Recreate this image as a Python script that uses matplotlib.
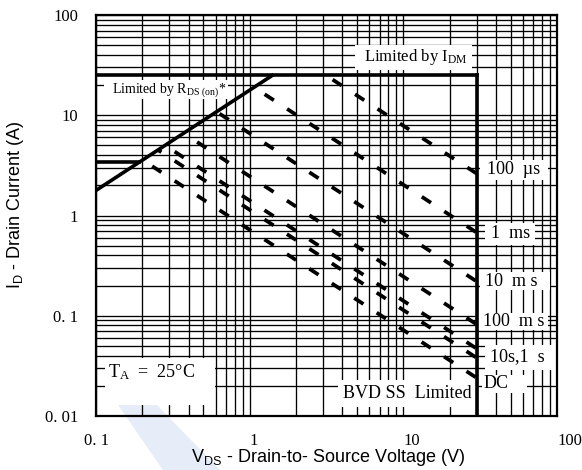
import matplotlib
matplotlib.use("Agg")
import matplotlib.pyplot as plt
from matplotlib.patches import Polygon, Rectangle
import numpy as np

plt.rcParams["lines.scale_dashes"] = False
plt.rcParams["mathtext.default"] = "regular"

# limits
r_ds_on = 0.0562   # ohm
i_dm = 25.0        # A
i_d = 3.4          # A
bv_dss = 30.0      # V
v_min = 0.1

# pulse lines: current where each line hits BVDSS (30 V)
pulse_names = ["100 µs", "1 ms", "10 ms", "100 ms", "1 s", "10 s", "DC"]
pulse_i_at_bvdss = [2.62, 0.676, 0.220, 0.082, 0.047, 0.038, 0.024]

x_ticks = [0.1, 1, 10, 100]
x_tick_labels = ["0. 1", "1", "10", "100"]
y_ticks = [0.01, 0.1, 1, 10, 100]
y_tick_labels = ["0. 01", "0. 1", "1", "10", "100"]

W, H = 582, 470
AX_L, AX_R, AX_T, AX_B = 96, 557, 15, 416
SERIF = ["Liberation Serif", "DejaVu Serif"]
SANS = ["Liberation Sans", "DejaVu Sans"]

fig = plt.figure(figsize=(W / 100, H / 100), dpi=100)

# faint watermark stripe at the bottom, behind everything
fig.patches.append(Polygon([(118 / W, 1 - 405 / H), (157 / W, 1 - 405 / H),
                            (220 / W, 0), (163 / W, 0)], closed=True,
                           transform=fig.transFigure, facecolor="#e6ecf8",
                           edgecolor="none", zorder=-5))

ax = fig.add_axes([AX_L / W, (H - AX_B) / H, (AX_R - AX_L) / W, (AX_B - AX_T) / H])
ax.patch.set_alpha(0)
ax.set_xscale("log")
ax.set_yscale("log")
ax.set_xlim(0.1, 100)
ax.set_ylim(0.01, 100)
ax.set_axisbelow(True)
ax.grid(which="both", color="black", lw=0.95)
for s in ax.spines.values():
    s.set_linewidth(1.6)

ax.set_xticks(x_ticks)
ax.set_xticklabels(x_tick_labels, family=SERIF, fontsize=12)
ax.set_yticks(y_ticks)
ax.set_yticklabels(y_tick_labels, family=SERIF, fontsize=12)
ax.tick_params(which="both", length=0)
ax.tick_params(axis="x", pad=12)
ax.tick_params(axis="y", pad=13)
for lab in ax.get_xticklabels()[1:]:
    lab.set_horizontalalignment("left")


def fx(x):
    return (x - AX_L) / (AX_R - AX_L)


def fy(y):
    return (AX_B - y) / (AX_B - AX_T)


def white_box(x0, y0, x1, y1):
    ax.add_patch(Rectangle((fx(x0), fy(y1)), fx(x1) - fx(x0), fy(y0) - fy(y1),
                           transform=ax.transAxes, facecolor="white",
                           edgecolor="none", zorder=2))


def label(x, y, s, size):
    ax.text(fx(x), fy(y), s, transform=ax.transAxes, fontsize=size,
            family=SERIF, ha="left", va="center", zorder=4)


# boundary lines
v_knee = i_dm * r_ds_on
ax.plot([v_min, v_knee], [v_min / r_ds_on, i_dm], color="black", lw=2.6, zorder=3)
ax.plot([v_min, bv_dss], [i_dm, i_dm], color="black", lw=2.6, zorder=3)
ax.plot([bv_dss, bv_dss], [0.01, i_dm], color="black", lw=2.6, zorder=3)
ax.plot([v_min, i_d * r_ds_on], [i_d, i_d], color="black", lw=2.6, zorder=3)

# constant-power pulse lines, clipped to the SOA
clip = Polygon([(v_min, 1e-3), (v_min, v_min / r_ds_on), (v_knee, i_dm),
                (bv_dss, i_dm), (bv_dss, 1e-3)], closed=True, transform=ax.transData)
v = np.array([v_min, bv_dss])
for name, i30 in zip(pulse_names, pulse_i_at_bvdss):
    p = i30 * bv_dss
    ln, = ax.plot(v, p / v, color="black", lw=2.7, ls=(9.6, (7.9, 11.4)),
                  dash_capstyle="butt", zorder=3)
    ln.set_clip_path(clip)

# annotation boxes
white_box(355, 45, 472, 70)
label(364, 57, "Limited by I$_{DM}$", 12)
white_box(104, 80, 228, 99)
label(112, 90, "Limited by R$_{DS\\ (on)}$*", 10)
white_box(480, 160, 548, 180)
label(487, 170, "100  µs", 13)
white_box(485, 223, 535, 245)
label(491, 234, "1  ms", 13)
white_box(480, 272, 550, 290)
label(485, 281, "10  m s", 13)
white_box(478, 313, 548, 330)
label(483, 321, "100  m s", 13)
white_box(485, 345, 557, 370)
label(490, 357, "10s,1  s", 13)
white_box(482, 375, 527, 393)
label(484, 383, "DC", 13)
white_box(338, 380, 477, 407)
label(343, 393, "BVD SS  Limited", 13)
white_box(105, 358, 215, 405)
label(108, 372, "T$_{A}$  =  25°C", 13)

ax.text(fx(328), fy(458), "V$_{DS}$ - Drain-to- Source Voltage (V)", transform=ax.transAxes,
        family=SANS, fontsize=13, ha="center", va="center")
ax.text(fx(16), fy(205), "I$_{D}$ - Drain Current (A)", transform=ax.transAxes,
        family=SANS, fontsize=13, ha="center", va="center", rotation=90)

fig.savefig("out.png", dpi=100)
